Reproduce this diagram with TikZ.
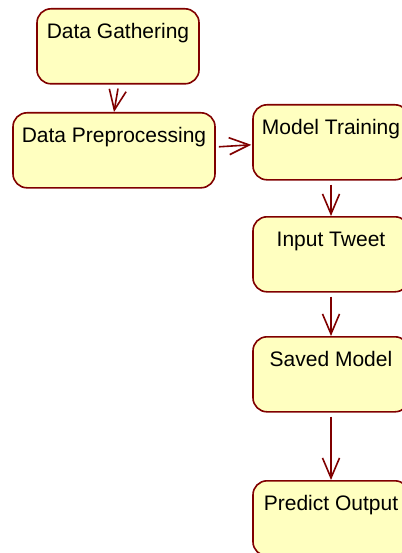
\documentclass[tikz,border=0pt]{standalone}
\usepackage{fontspec}
\setmainfont{Liberation Sans}
\usetikzlibrary{arrows.meta}
\definecolor{stateline}{HTML}{800000}
\definecolor{statefill}{HTML}{FFFFC0}
\begin{document}
\begin{tikzpicture}[x=1bp,y=-1bp,
  statebox/.style={draw=stateline, fill=statefill, line width=1.6bp,
    rounded corners=14bp, inner xsep=0pt, inner ysep=0pt,
    text height=30bp, text depth=45bp, align=center,
    font=\fontsize{21bp}{24bp}\selectfont, anchor=north},
  flow/.style={draw=stateline, line width=1.6bp,
    -{Straight Barb[length=20bp,width=17bp,line width=1.6bp]}}]
\useasboundingbox (0,0) rectangle (401,553);
\node[statebox, minimum width=162bp] (dg) at (118,8)   {Data Gathering};
\node[statebox, minimum width=202bp] (dp) at (114,112) {Data Preprocessing};
\node[statebox, minimum width=156bp] (mt) at (331,104) {Model Training};
\node[statebox, minimum width=156bp] (it) at (331,216) {Input Tweet};
\node[statebox, minimum width=156bp] (sm) at (331,336) {Saved Model};
\node[statebox, minimum width=156bp] (po) at (331,480) {Predict Output};
\draw[flow] ([yshift=-4bp]dg.south) -- (dp.north);
\draw[flow] ([xshift=3bp,yshift=3.5bp]dp.east) -- ([xshift=-1bp,yshift=-2.5bp]mt.west);
\draw[flow] ([yshift=-4bp]mt.south) -- (it.north);
\draw[flow] ([yshift=-4bp]it.south) -- (sm.north);
\draw[flow] ([yshift=-4bp]sm.south) -- (po.north);
\end{tikzpicture}
\end{document}
